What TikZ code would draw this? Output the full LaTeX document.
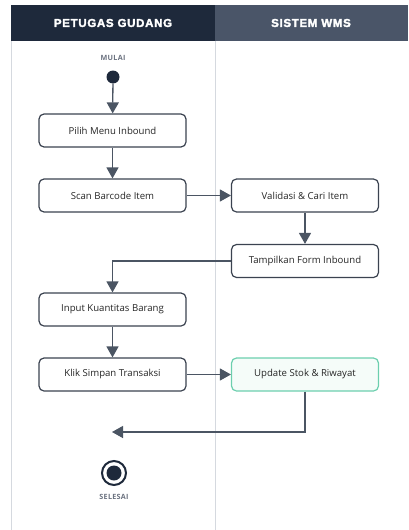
\documentclass[tikz,border=0pt]{standalone}
\usepackage{fontspec}
\setmainfont{Open Sans}
\newfontfamily\headfont{Liberation Sans}[FakeBold=2.4, LetterSpace=6]
\newfontfamily\tagfont{Open Sans}[LetterSpace=4]
\usepackage{tikz}
\usetikzlibrary{arrows.meta, positioning, shapes.geometric}
\definecolor{lanedark}{HTML}{1E293B}
\definecolor{laneslate}{HTML}{4A5568}
\definecolor{laneline}{HTML}{D5D9DF}
\definecolor{boxline}{HTML}{3B4350}
\definecolor{flowcolor}{HTML}{4B5563}
\definecolor{donecolor}{HTML}{6CCFAE}
\definecolor{donefill}{HTML}{F5FCF9}
\definecolor{labelgray}{HTML}{6B7280}

\begin{document}
\begin{tikzpicture}[
    x=1pt, y=-1pt,
    header/.style={font=\headfont\bfseries\fontsize{11.5}{13}\selectfont, text=white},
    action/.style={draw=boxline, line width=1.2pt, fill=white, rounded corners=5pt,
        minimum width=147pt, minimum height=33pt, font=\fontsize{9.6}{11}\selectfont, text=black!85},
    flow/.style={draw=flowcolor, line width=1.3pt, -{Triangle[length=11pt, width=12pt]}},
    tag/.style={font=\tagfont\bfseries\fontsize{7.2}{8}\selectfont, text=labelgray}
]
    \useasboundingbox (0,0) rectangle (408,530);

    % Swimlanes
    \fill[lanedark] (11,5) rectangle (215,41);
    \fill[laneslate] (215,5) rectangle (408,41);
    \node[header] (laneA) at (113,23) {PETUGAS GUDANG};
    \node[header] (laneB) at (311,23) {SISTEM WMS};
    \draw[laneline, line width=1pt] (11,41) -- (11,530);
    \draw[laneline, line width=1pt] (215,41) -- (215,530);

    % Start / end
    \node[tag] (mulai) at (113,58) {MULAI};
    \node[circle, fill=lanedark, inner sep=0pt, minimum size=13pt] (start) at (113,77) {};
    \node[circle, draw=lanedark, line width=2pt, fill=white, inner sep=0pt, minimum size=24pt] (stop) at (114,473) {};
    \fill[lanedark] (stop.center) circle (7.5pt);
    \node[tag] (selesai) at (114,497) {SELESAI};

    % Actions
    \node[action] (pilih) at (112.5,130.5) {Pilih Menu Inbound};
    \node[action] (scan) at (112.5,195.5) {Scan Barcode Item};
    \node[action] (validasi) at (305,195.5) {Validasi \& Cari Item};
    \node[action] (tampil) at (305,261) {Tampilkan Form Inbound};
    \node[action] (input) at (112.5,309.5) {Input Kuantitas Barang};
    \node[action] (klik) at (112.5,374.5) {Klik Simpan Transaksi};
    \node[action, draw=donecolor, fill=donefill] (update) at (305,374.5) {Update Stok \& Riwayat};
    \coordinate (merge) at (112,432);

    % Flow arrows
    \draw[flow] (start) -- (pilih);
    \draw[flow] (pilih) -- (scan);
    \draw[flow] (scan) -- (validasi);
    \draw[flow] (validasi) -- (tampil);
    \draw[flow] (tampil.west) -| (input.north);
    \draw[flow] (input) -- (klik);
    \draw[flow] (klik) -- (update);
    \draw[flow] (update.south) |- (merge);

\end{tikzpicture}
\end{document}
